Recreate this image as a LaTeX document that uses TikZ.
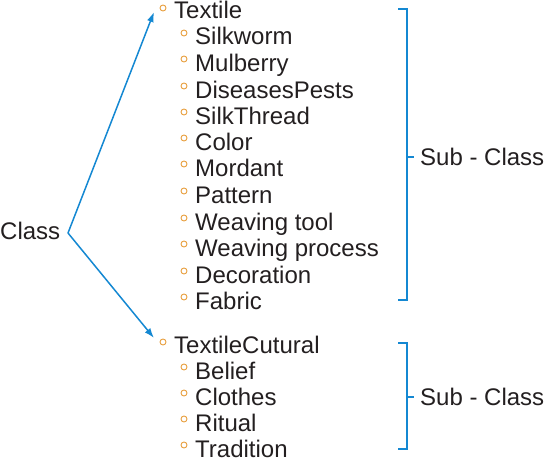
\documentclass[tikz,border=0pt]{standalone}
\usepackage{fontspec}
\setmainfont{Liberation Sans}
\usetikzlibrary{arrows.meta}
\definecolor{lineblue}{RGB}{20,136,210}
\definecolor{txt}{RGB}{35,31,32}
\definecolor{bul}{RGB}{232,160,64}
\begin{document}
\begin{tikzpicture}[x=1pt,y=-1pt,
  lbl/.style={anchor=base west,inner sep=0pt,text=txt,font=\fontsize{24}{24}\selectfont},
  bulletdot/.style={circle,draw=bul,line width=0.9pt,inner sep=0pt,minimum size=6pt},
  conn/.style={lineblue,line width=1.5pt,-{Latex[length=10pt,width=7pt]}},
  brk/.style={lineblue,line width=1.6pt}]
\useasboundingbox (0,0) rectangle (546,460);
\node[lbl] (class) at (0,239) {Class};
\coordinate (apex) at (68,233);
% top level
\node[bulletdot] (b0) at (163,8) {};
\node[lbl] (t0) at (174,18.5) {Textile};
\node[bulletdot] (c0) at (163,342) {};
\node[lbl] (u0) at (174,353) {TextileCutural};
% sub items group 1
\foreach \n/\y/\t in {1/37/Silkworm,2/63/Mulberry,3/90/DiseasesPests,4/116/SilkThread,5/142/Color,6/168/Mordant,7/195/Pattern,8/222/Weaving tool,9/248/Weaving process,10/275/Decoration,11/301/Fabric}{
  \node[bulletdot] (b\n) at (184,\y-4) {};
  \node[lbl] (t\n) at (195,\y+8) {\t};
}
\foreach \n/\y/\t in {1/371/Belief,2/397/Clothes,3/423/Ritual,4/449/Tradition}{
  \node[bulletdot] (c\n) at (184,\y-4) {};
  \node[lbl] (u\n) at (195,\y+8) {\t};
}
% connectors
\draw[conn] (apex) -- (154,12);
\draw[conn] (apex) -- (154,338);
% brackets
\draw[brk] (398,9) -- (407,9) -- (407,300) -- (398,300);
\draw[brk] (407,157) -- (414,157);
\node[lbl] (s1) at (420,165.5) {Sub - Class};
\draw[brk] (398,343) -- (407,343) -- (407,449) -- (398,449);
\draw[brk] (407,397) -- (414,397);
\node[lbl] (s2) at (420,405.5) {Sub - Class};
\end{tikzpicture}
\end{document}
